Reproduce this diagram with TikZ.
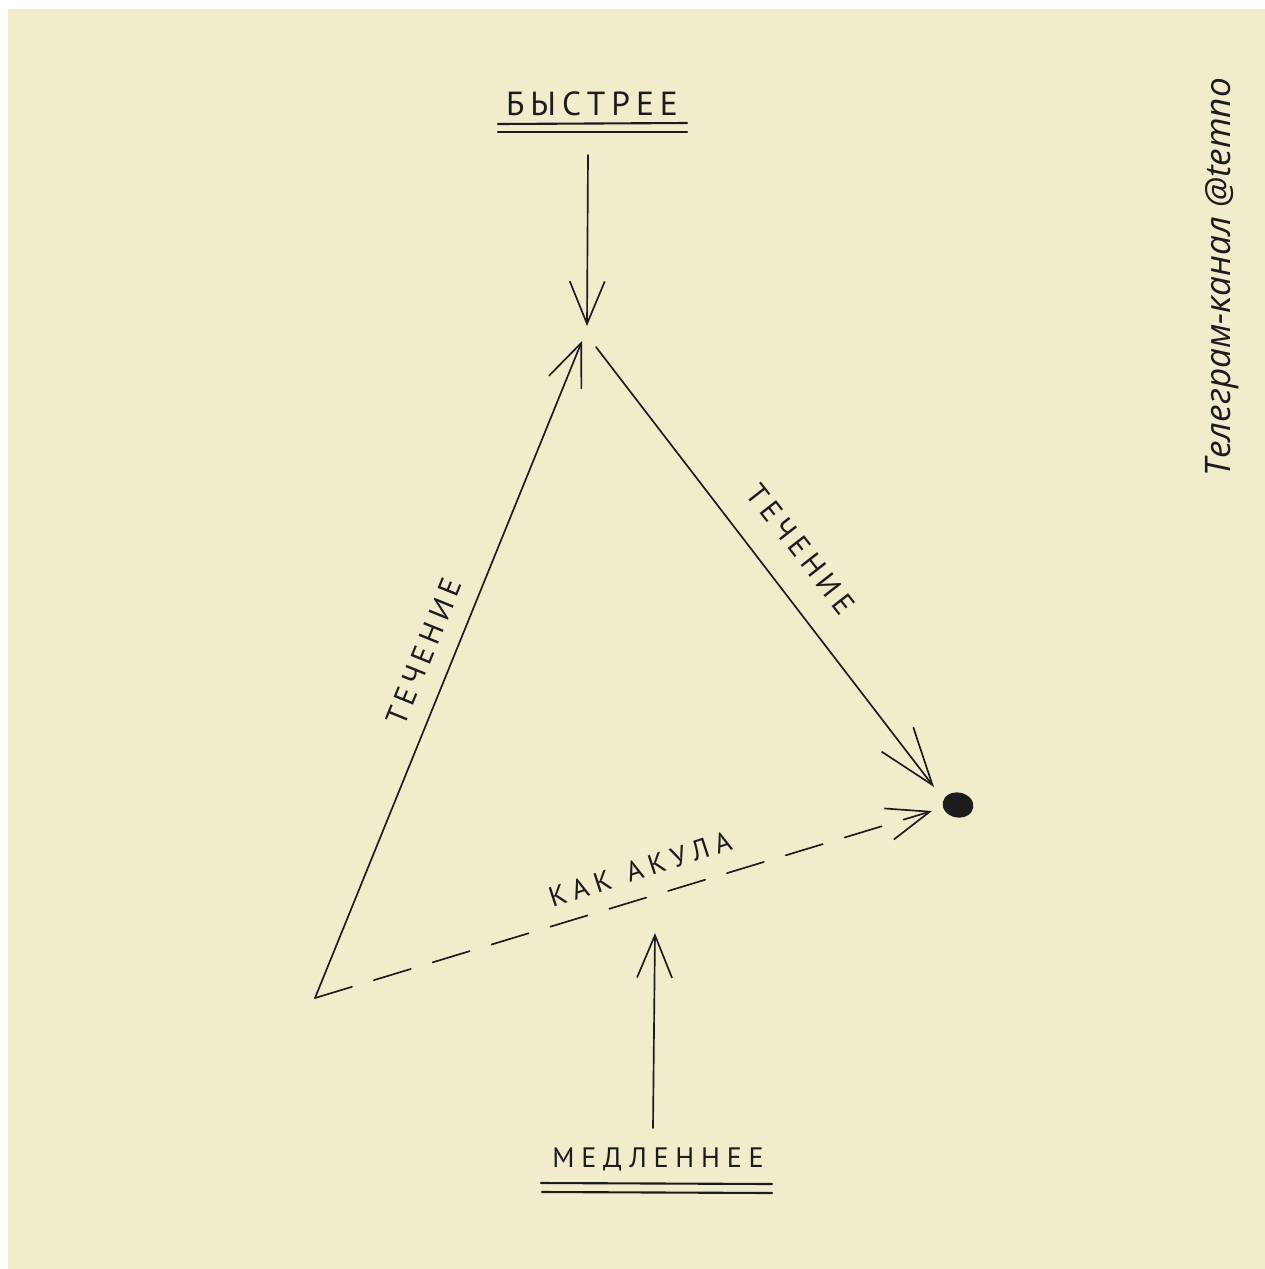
\documentclass[tikz,border=0pt]{standalone}
\usepackage{fontspec}
\setmainfont{PT Sans}
\newfontfamily\hand[LetterSpace=18]{PT Sans}
\newfontfamily\handwide[LetterSpace=24]{PT Sans}
\newfontfamily\wmfont{Open Sans}
\usetikzlibrary{arrows.meta,shapes.geometric}
\definecolor{paper}{RGB}{241,236,204}
\definecolor{ink}{RGB}{28,28,28}
\begin{document}
\begin{tikzpicture}[x=0.02cm,y=-0.02cm,
  pen/.style={draw=ink,line width=0.95pt,line cap=round,line join=round},
  arr/.style={pen,-{Straight Barb[length=0.85cm,width=0.7cm]}},
  longarr/.style={pen,-{Straight Barb[length=1.15cm,width=0.8cm]}},
  dashline/.style={pen,dash pattern=on 22pt off 13pt},
  lbl/.style={text=ink,inner sep=0pt,anchor=center},
  uline/.style={draw=ink,line width=1.2pt,line cap=round}]
\useasboundingbox (0,0) rectangle (1265,1269);
\fill[white] (0,0) rectangle (1265,1269);
\fill[paper] (8,9) rectangle (1265,1269);

% labels
\node[lbl,font=\hand\fontsize{19}{19}\selectfont] (fast) at (592,104) {БЫСТРЕЕ};
\draw[uline] (498,124) -- (687,123);
\draw[uline] (498,132) -- (687,132);
\node[lbl,font=\handwide\fontsize{16}{16}\selectfont] (slow) at (658,1159) {МЕДЛЕННЕЕ};
\draw[uline] (541,1183) -- (772,1184);
\draw[uline] (542,1192) -- (772,1193);

% points
\coordinate (faststart) at (588,155);
\coordinate (fasttip) at (587,326);
\coordinate (apex) at (582,341);
\coordinate (apexR) at (596,347);
\coordinate (corner) at (315,998);
\coordinate (rtip) at (934,787);
\coordinate (dtip) at (932,811);
\coordinate (slowstart) at (653,1128);
\coordinate (slowtip) at (655,933);
\node[ellipse,fill=ink,minimum width=0.62cm,minimum height=0.5cm,inner sep=0pt,rotate=-10] (dot) at (958,805) {};

% connectors
\draw[arr] (faststart) -- (fasttip);
\draw[arr] (corner) -- (apex);
\draw[longarr] (apexR) -- (rtip);
\draw[dashline,-{Straight Barb[length=0.85cm,width=0.65cm]}] (corner) -- (dtip);
\draw[arr] (slowstart) -- (slowtip);

% connector labels
\node[lbl,font=\hand\fontsize{17}{17}\selectfont,rotate=68] (flowL) at (424,652) {ТЕЧЕНИЕ};
\node[lbl,font=\hand\fontsize{17}{17}\selectfont,rotate=-52] (flowR) at (801,549) {ТЕЧЕНИЕ};
\node[lbl,font=\handwide\fontsize{16}{16}\selectfont,rotate=18] (shark) at (640,869) {КАК\hspace{0.6em}АКУЛА};

% watermark
\node[lbl,font=\wmfont\itshape\fontsize{20}{20}\selectfont,rotate=90] (wm) at (1222,277) {Телеграм-канал @temno};
\end{tikzpicture}
\end{document}
